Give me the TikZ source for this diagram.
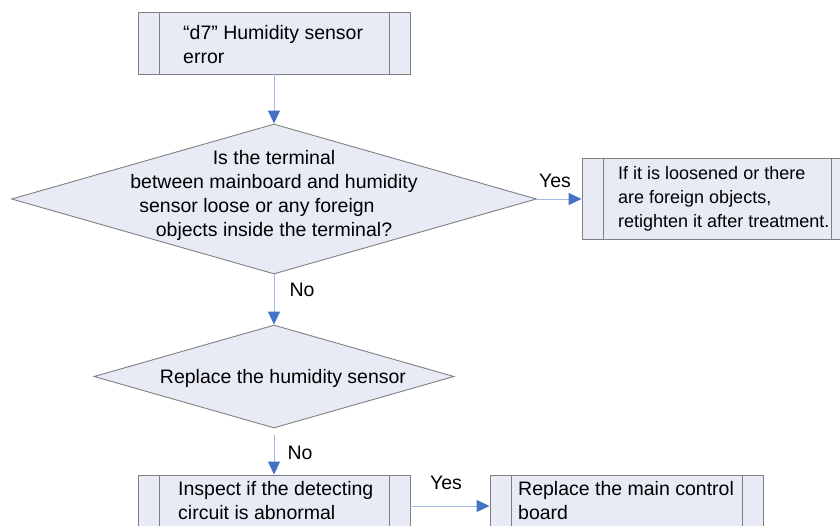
\documentclass[tikz,border=0pt]{standalone}
\usepackage{fontspec}
\setmainfont{Liberation Sans}
\usetikzlibrary{shapes.geometric,arrows.meta}
\definecolor{boxfill}{RGB}{232,235,245}
\definecolor{boxline}{RGB}{128,128,128}
\definecolor{linkline}{RGB}{160,185,225}
\definecolor{tipblue}{RGB}{68,114,196}
\begin{document}
\begin{tikzpicture}[x=1pt,y=-1pt,
  proc/.style={draw=boxline,fill=boxfill,line width=0.9pt,rectangle,inner sep=0pt},
  dia/.style={draw=boxline,fill=boxfill,line width=0.9pt,diamond,inner sep=0pt,aspect=1},
  txt/.style={font=\fontsize{19.5}{24}\selectfont,inner sep=0pt,align=left,anchor=west},
  lbl/.style={font=\fontsize{19.5}{24}\selectfont,inner sep=0pt,align=center},
  link/.style={draw=linkline,line width=1pt,-{Triangle[length=13pt,width=12pt,color=tipblue]}}]
\useasboundingbox (0,0) rectangle (840,525);
\clip (0,0) rectangle (840,525);
% boxes
\node[proc,minimum width=272pt,minimum height=62pt] (b1) at (274,43) {};
\node[proc,minimum width=270pt,minimum height=81pt] (r1) at (717,198.5) {};
\node[proc,minimum width=272pt,minimum height=62pt] (b3) at (274,506) {};
\node[proc,minimum width=273pt,minimum height=62pt] (b4) at (626.5,506) {};
\foreach \n in {b1,r1,b3,b4}{
  \draw[boxline,line width=0.9pt] ([xshift=22pt]\n.north west) -- ([xshift=22pt]\n.south west)
    ([xshift=-21pt]\n.north east) -- ([xshift=-21pt]\n.south east);
}
% diamonds
\node[dia,minimum width=525pt,minimum height=150pt] (d1) at (274,199) {};
\node[dia,minimum width=360pt,minimum height=103pt] (d2) at (274,376.5) {};
% texts
\node[txt] (b1t) at (183,45) {“d7” Humidity sensor\\error};
\node[lbl] (d1t) at (274,195) {Is the terminal\\between mainboard and humidity\\sensor loose or any foreign\rule{34pt}{0pt}\\objects inside the terminal?};
\node[txt,font=\fontsize{18}{24}\selectfont] (r1t) at (618,199) {If it is loosened or there\\are foreign objects,\\retighten it after treatment.};
\node[lbl] (d2t) at (283,378) {Replace the humidity sensor};
\node[txt] (b3t) at (178,501) {Inspect if the detecting\\circuit is abnormal};
\node[txt] (b4t) at (518,501) {Replace the main control\\board};
% labels
\node[lbl] (y1) at (555,181) {Yes};
\node[lbl] (n1) at (302,290) {No};
\node[lbl] (n2) at (300,453) {No};
\node[lbl] (y2) at (446,483) {Yes};
% links
\draw[link] (b1.south) -- (b1.south |- d1.north);
\draw[link] (d1.east) -- (d1.east -| r1.west);
\draw[link] (d1.south) -- (d1.south |- d2.north);
\draw[link,shorten <=7pt] (d2.south) -- (d2.south |- b3.north);
\draw[link] (b3.east) -- (b3.east -| b4.west);
\end{tikzpicture}
\end{document}
